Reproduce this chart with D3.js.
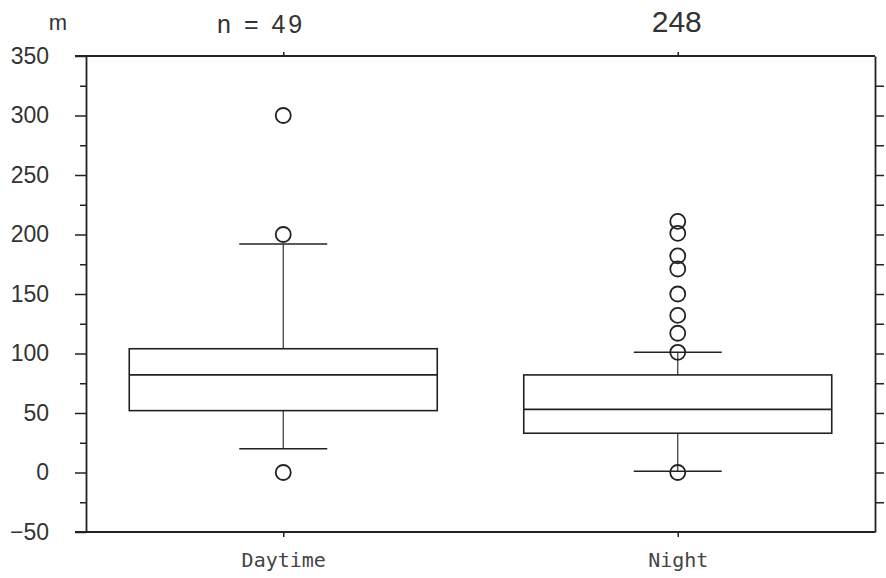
<!DOCTYPE html>
<html>
<head>
<meta charset="utf-8">
<script src="https://cdn.jsdelivr.net/npm/d3@7"></script>
<style>
  body { margin: 0; background: #fff; }
  svg { display: block; }
  .domain { stroke: #222; stroke-width: 1.8; }
  .tick line { stroke: #222; stroke-width: 1.5; }
</style>
</head>
<body>
<svg id="chart"></svg>
<script>
// data
var categories = ["Daytime", "Night"];
var counts = ["49", "248"];
var q1 = [52, 33];
var medians = [82, 53];
var q3 = [104, 82];
var whiskerLow = [20, 1];
var whiskerHigh = [192, 101];
var outliersDay = [300, 200, 0];
var outliersNight = [211, 201, 182, 171, 150, 132, 117, 101, 0];
var yTicks = [-50, 0, 50, 100, 150, 200, 250, 300, 350];

var width = 886, height = 578;
var plotL = 86, plotR = 875, plotT = 56, plotB = 532;

var svg = d3.select("#chart").attr("width", width).attr("height", height);

var x = d3.scalePoint().domain(categories).range([plotL, plotR]).padding(0.5);
var y = d3.scaleLinear().domain([-50, 350]).range([plotB, plotT]);

var boxes = categories.map(function(c, i) {
  return {cat: c, q1: q1[i], med: medians[i], q3: q3[i], lo: whiskerLow[i], hi: whiskerHigh[i],
          out: i == 0 ? outliersDay : outliersNight};
});

// minor ticks left
svg.append("g")
    .attr("transform", "translate(" + plotL + ",0)")
    .call(d3.axisLeft(y).tickValues(d3.range(-25, 350, 50)).tickSize(6).tickFormat(""))
    .call(g => g.select(".domain").remove());

// main left axis
svg.append("g")
    .attr("transform", "translate(" + plotL + ",0)")
    .call(d3.axisLeft(y).tickValues(yTicks).tickSize(11).tickSizeOuter(0).tickPadding(26))
    .call(g => g.selectAll("text")
      .style("font-family", "'Liberation Sans', Arial, sans-serif")
      .style("font-size", "23px").attr("fill", "#333"));

// right axis
svg.append("g")
    .attr("transform", "translate(" + plotR + ",0)")
    .call(d3.axisRight(y).tickValues(d3.range(-25, 350, 25)).tickSize(9).tickSizeOuter(0).tickFormat(""));

// bottom / top
svg.append("g")
    .attr("transform", "translate(0," + plotB + ")")
    .call(d3.axisBottom(x).tickSize(5).tickSizeOuter(0).tickPadding(16))
    .call(g => g.select(".domain").attr("d", "M" + (plotL - 11) + ",0H" + plotR))
    .call(g => g.selectAll("text")
      .style("font-family", "'DejaVu Sans Mono', monospace")
      .style("font-size", "20px").attr("fill", "#444"));

svg.append("g")
    .attr("transform", "translate(0," + plotT + ")")
    .call(d3.axisTop(x).tickSize(4).tickSizeOuter(0).tickFormat(""))
    .call(g => g.select(".domain").attr("d", "M" + (plotL - 11) + ",0H" + plotR));

// sample sizes
svg.selectAll(".count")
    .data(counts)
  .enter().append("text")
    .attr("class", "count")
    .attr("x", (d, i) => i == 0 ? x(categories[i]) + 22 : x(categories[i]) - 1)
    .attr("y", (d, i) => i == 0 ? 33 : 32)
    .attr("text-anchor", (d, i) => i == 0 ? "end" : "middle")
    .attr("letter-spacing", (d, i) => i == 0 ? 3 : 0)
    .style("font-family", "'Liberation Sans', Arial, sans-serif")
    .style("font-size", (d, i) => i == 0 ? "25px" : "30px")
    .attr("fill", "#333")
    .text((d, i) => i == 0 ? "n = " + d : d);

svg.append("text")
    .attr("x", 58).attr("y", 30)
    .attr("text-anchor", "middle")
    .style("font-family", "'Liberation Sans', Arial, sans-serif")
    .style("font-size", "22px")
    .attr("fill", "#333")
    .text("m");

// boxes
var half = 154, cap = 44;
var bx = svg.append("g").attr("class", "boxes")
  .selectAll("g").data(boxes).enter().append("g");

bx.append("line")
    .attr("x1", d => x(d.cat)).attr("x2", d => x(d.cat))
    .attr("y1", d => y(d.q3)).attr("y2", d => y(d.hi))
    .attr("stroke", "#333").attr("stroke-width", 1.2);
bx.append("line")
    .attr("x1", d => x(d.cat)).attr("x2", d => x(d.cat))
    .attr("y1", d => y(d.q1)).attr("y2", d => y(d.lo))
    .attr("stroke", "#333").attr("stroke-width", 1.2);
bx.append("line")
    .attr("x1", d => x(d.cat) - cap).attr("x2", d => x(d.cat) + cap)
    .attr("y1", d => y(d.hi)).attr("y2", d => y(d.hi))
    .attr("stroke", "#222").attr("stroke-width", 1.6);
bx.append("line")
    .attr("x1", d => x(d.cat) - cap).attr("x2", d => x(d.cat) + cap)
    .attr("y1", d => y(d.lo)).attr("y2", d => y(d.lo))
    .attr("stroke", "#222").attr("stroke-width", 1.6);
bx.append("rect")
    .attr("x", d => x(d.cat) - half).attr("width", half * 2)
    .attr("y", d => y(d.q3)).attr("height", d => y(d.q1) - y(d.q3))
    .attr("fill", "none").attr("stroke", "#222").attr("stroke-width", 1.6);
bx.append("line")
    .attr("x1", d => x(d.cat) - half).attr("x2", d => x(d.cat) + half)
    .attr("y1", d => y(d.med)).attr("y2", d => y(d.med))
    .attr("stroke", "#222").attr("stroke-width", 1.8);

bx.selectAll("circle")
    .data(d => d.out.map(v => ({cat: d.cat, v: v})))
  .enter().append("circle")
    .attr("cx", d => x(d.cat)).attr("cy", d => y(d.v))
    .attr("r", 7.5)
    .attr("fill", "none").attr("stroke", "#222").attr("stroke-width", 1.8);
</script>
</body>
</html>
